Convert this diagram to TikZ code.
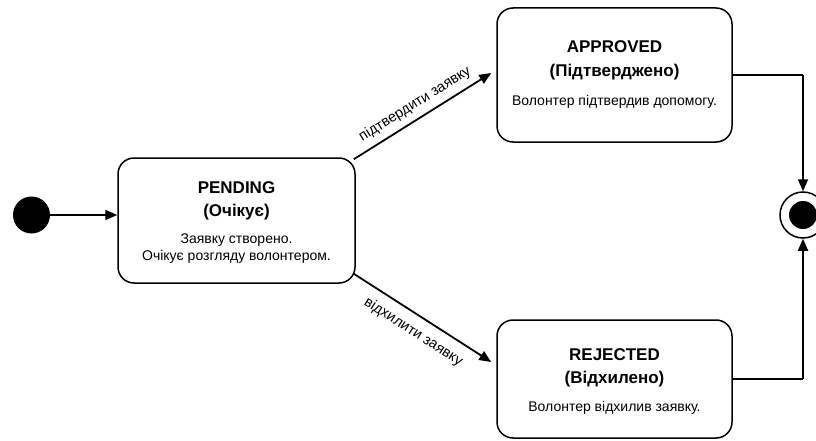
\documentclass[tikz,border=0pt]{standalone}
\usepackage{fontspec}
\setmainfont{Liberation Sans}
\usetikzlibrary{arrows.meta}
\begin{document}
\begin{tikzpicture}[x=1pt,y=-1pt,
  statebox/.style={draw,line width=1.5pt,rounded corners=16pt,inner sep=0pt},
  titletext/.style={font=\fontsize{17}{19}\selectfont\bfseries},
  bodytext/.style={font=\fontsize{14}{16}\selectfont},
  edgelabel/.style={font=\fontsize{14.5}{16}\selectfont,sloped},
  flow/.style={line width=1.8pt,-{Triangle[length=12pt,width=10pt]}},
  link/.style={line width=1.8pt}]
\useasboundingbox[fill=white] (0,0) rectangle (816,441);

% initial and final pseudo-states
\node (start) [circle,fill=black,minimum size=37pt,inner sep=0pt] at (31.5,215) {};
\node (finish) [circle,draw,line width=1.5pt,minimum size=46pt,inner sep=0pt] at (803,215) {};
\node (finishdot) [circle,fill=black,minimum size=28pt,inner sep=0pt] at (803,215) {};

% state boxes
\node (pending) [statebox,minimum width=237pt,minimum height=125pt] at (236.5,220.5) {};
\node (approved) [statebox,minimum width=235pt,minimum height=134pt] at (614.5,75) {};
\node (rejected) [statebox,minimum width=235pt,minimum height=118pt] at (614.5,379) {};

% state texts
\node (pt1) [titletext] at (236.5,188) {PENDING};
\node (pt2) [titletext] at (236.5,212) {(Очікує)};
\node (pb1) [bodytext] at (236.5,240) {Заявку створено.};
\node (pb2) [bodytext] at (236.5,257) {Очікує розгляду волонтером.};

\node (at1) [titletext] at (614.5,47) {APPROVED};
\node (at2) [titletext] at (614.5,72) {(Підтверджено)};
\node (ab1) [bodytext] at (614.5,102) {Волонтер підтвердив допомогу.};

\node (rt1) [titletext] at (614.5,355) {REJECTED};
\node (rt2) [titletext] at (614.5,379) {(Відхилено)};
\node (rb1) [bodytext] at (614.5,408) {Волонтер відхилив заявку.};

% anchor points for the connectors
\coordinate (pNE) at ([shift={(-2,2)}]pending.north east);
\coordinate (pSE) at ([shift={(-2,-10)}]pending.south east);
\coordinate (aIn) at ([shift={(-5,-2)}]approved.west);
\coordinate (rIn) at ([shift={(-5,-17)}]rejected.west);
\coordinate (aCorner) at (finish.north |- approved.east);
\coordinate (rCorner) at (finish.south |- rejected.east);

% transitions
\draw[flow] (start) -- (start -| pending.west);
\draw[flow] (pNE) -- node[edgelabel,above=3pt] {підтвердити заявку} (aIn);
\draw[flow] (pSE) -- node[edgelabel,below=6pt] {відхилити заявку} (rIn);
\draw[link] (approved.east) -- (aCorner);
\draw[flow] (aCorner) -- (finish.north);
\draw[link] (rejected.east) -- (rCorner);
\draw[flow] (rCorner) -- (finish.south);
\end{tikzpicture}
\end{document}
